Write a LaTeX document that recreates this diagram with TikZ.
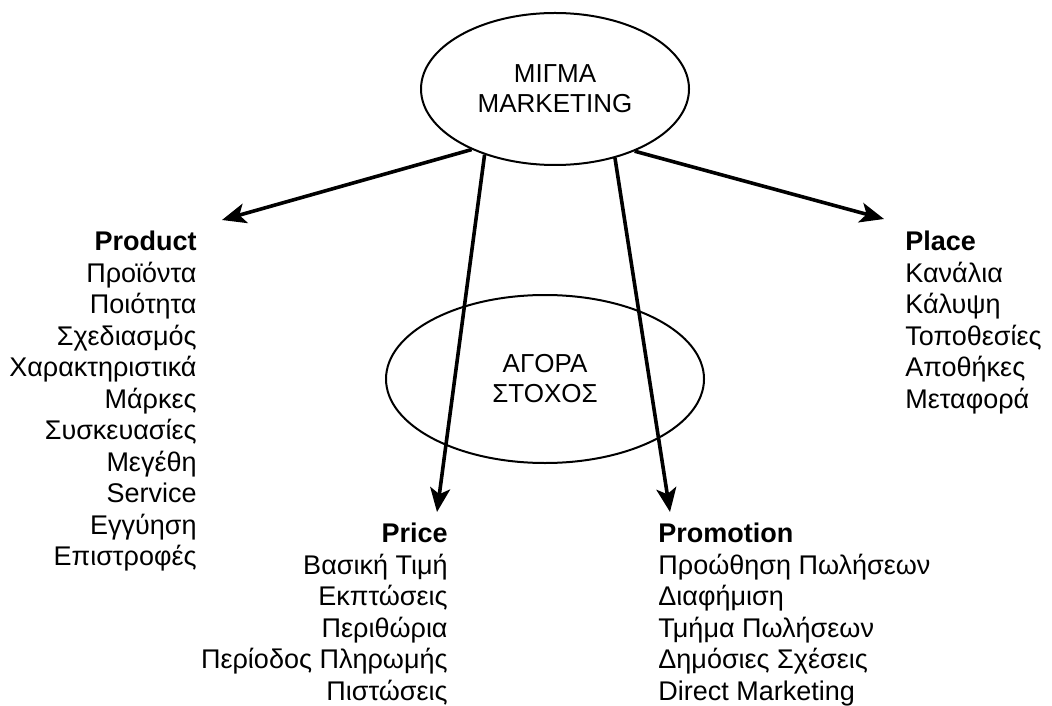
\documentclass[tikz,border=0pt]{standalone}
\usepackage{fontspec}
\setmainfont{Liberation Sans}
\usetikzlibrary{shapes.geometric,arrows.meta}

\begin{document}
\begin{tikzpicture}[x=0.5pt,y=-0.5pt,
	ell/.style={draw, ellipse, line width=1pt, inner sep=0pt, align=center, font=\fontsize{13}{15}\selectfont},
	list/.style={inner sep=0pt, font=\fontsize{13.5}{15.75}\selectfont},
	arr/.style={line width=1.8pt, -{Stealth[length=12pt,width=10pt,inset=3pt]}}]
	\useasboundingbox (0,0) rectangle (1052,705);

	%ellipses
	\node[ell, minimum width=134pt, minimum height=76pt] (mix) at (555,89) {ΜΙΓΜΑ\\MARKETING};
	\node[ell, minimum width=159pt, minimum height=84pt] (target) at (545,379) {ΑΓΟΡΑ\\ΣΤΟΧΟΣ};

	%lists
	\node[list, align=right, anchor=north east] (product) at (197,231) {\textbf{Product}\\Προϊόντα\\Ποιότητα\\Σχεδιασμός\\Χαρακτηριστικά\\Μάρκες\\Συσκευασίες\\Μεγέθη\\Service\\Εγγύηση\\Επιστροφές};
	\node[list, align=left, anchor=north west] (place) at (905,231) {\textbf{Place}\\Κανάλια\\Κάλυψη\\Τοποθεσίες\\Αποθήκες\\Μεταφορά};
	\node[list, align=right, anchor=north east] (price) at (448,523) {\textbf{Price}\\Βασική Τιμή\\Εκπτώσεις\\Περιθώρια\\Περίοδος Πληρωμής\\Πιστώσεις};
	\node[list, align=left, anchor=north west] (promotion) at (658,523) {\textbf{Promotion}\\Προώθηση Πωλήσεων\\Διαφήμιση\\Τμήμα Πωλήσεων\\Δημόσιες Σχέσεις\\Direct Marketing};

	%arrows
	\coordinate (prodtip) at (222,220);
	\coordinate (placetip) at (884,219);
	\coordinate (pricetip) at (437,512);
	\coordinate (promtip) at (670,512);
	\draw[arr] (mix.216) -- (prodtip);
	\draw[arr] (mix.322) -- (placetip);
	\draw[arr] (mix.223) -- (pricetip);
	\draw[arr] (mix.311) -- (promtip);
\end{tikzpicture}
\end{document}
